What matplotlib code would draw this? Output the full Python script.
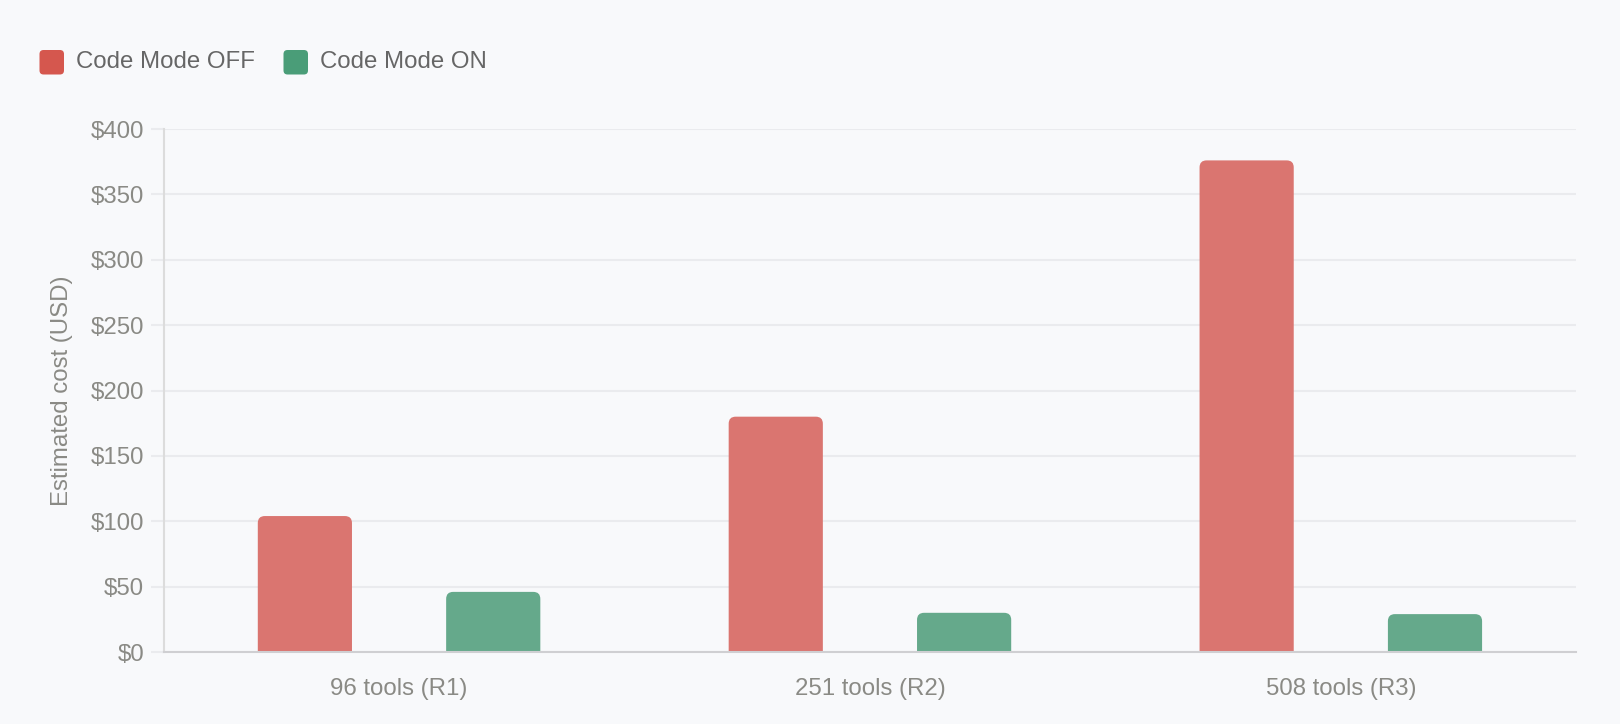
import matplotlib
matplotlib.use("Agg")
import matplotlib.pyplot as plt
from matplotlib.patches import FancyBboxPatch
import numpy as np

categories = ["96 tools (R1)", "251 tools (R2)", "508 tools (R3)"]
series_names = ["Code Mode OFF", "Code Mode ON"]
cost_off = [104, 180, 376]
cost_on = [46, 30, 29]
y_ticks = [0, 50, 100, 150, 200, 250, 300, 350, 400]
y_tick_labels = ["$" + str(v) for v in y_ticks]

plt.rcParams['font.family'] = ['Liberation Sans', 'DejaVu Sans']

BG = '#F8F9FB'
RED = '#D5574E'
GREEN = '#4A9D78'
RED_BAR = '#DA7570'
GREEN_BAR = '#65A98B'
GRID = '#EAEBEE'
TICK_C = '#8A8A85'

W, H, DPI = 1620, 724, 100
fig = plt.figure(figsize=(W / DPI, H / DPI), dpi=DPI, facecolor=BG)
ax = fig.add_axes([0.101, 0.0994, 0.872, 0.7224], facecolor=BG)

x = np.arange(len(categories))
bw = 0.2
off = 0.2
ax.set_xlim(-0.5, len(categories) - 0.5)
ax.set_ylim(0, 400)

bars_off = ax.bar(x - off, cost_off, width=bw, color=RED_BAR)
bars_on = ax.bar(x + off, cost_on, width=bw, color=GREEN_BAR)

# rounded top corners
ax_w_px = 0.872 * W
ax_h_px = 0.7224 * H
xpp = (len(categories)) / ax_w_px
ypp = 400 / ax_h_px
aspect = ypp / xpp
r_px = 7
r_x = r_px * xpp
r_y = r_px * ypp
for bars, col in ((bars_off, RED_BAR), (bars_on, GREEN_BAR)):
    for b in bars:
        b.set_visible(False)
        bx, by = b.get_x(), b.get_y()
        bwid, bh = b.get_width(), b.get_height()
        p = FancyBboxPatch((bx, by - 2 * r_y), bwid, bh + 2 * r_y,
                           boxstyle=f"round,pad=0,rounding_size={r_x}",
                           mutation_aspect=aspect, facecolor=col,
                           edgecolor='none', zorder=2)
        ax.add_patch(p)

ax.set_axisbelow(True)
ax.set_yticks(y_ticks)
ax.set_yticklabels(y_tick_labels)
ax.yaxis.grid(True, color=GRID, linewidth=1.5)
ax.tick_params(axis='y', length=9.4, width=1.5, color=GRID, pad=4.5,
               labelsize=17.3, labelcolor=TICK_C)
ax.set_xticks(x)
ax.set_xticklabels(categories)
ax.tick_params(axis='x', length=0, pad=19, labelsize=17.3, labelcolor=TICK_C)

for s in ('top', 'right'):
    ax.spines[s].set_visible(False)
ax.spines['left'].set_color('#DCDCDC')
ax.spines['left'].set_linewidth(1.5)
ax.spines['bottom'].set_color('#CFCFD2')
ax.spines['bottom'].set_linewidth(1.5)

ax.set_ylabel("Estimated cost (USD)", fontsize=17.3, color=TICK_C)
ax.yaxis.label.set_va('center')
ax.yaxis.set_label_coords(-0.0722, 0.5)

# legend
def fx(px):
    return px / W

def fy(py):
    return 1 - py / H

legend_items = [(series_names[0], RED, 39.5, 76.5), (series_names[1], GREEN, 283.5, 320.5)]
for name, col, sx, tx in legend_items:
    sq = FancyBboxPatch((fx(sx), fy(74.5)), fx(24.5), 24.5 / H,
                        boxstyle="round,pad=0,rounding_size=0.0025",
                        mutation_aspect=W / H,
                        transform=fig.transFigure, facecolor=col, edgecolor='none')
    fig.patches.append(sq)
    fig.text(fx(tx), fy(62.5), name, fontsize=17.3, color='#666666', va='center', ha='left')

fig.savefig("out.png", dpi=DPI, facecolor=BG)
